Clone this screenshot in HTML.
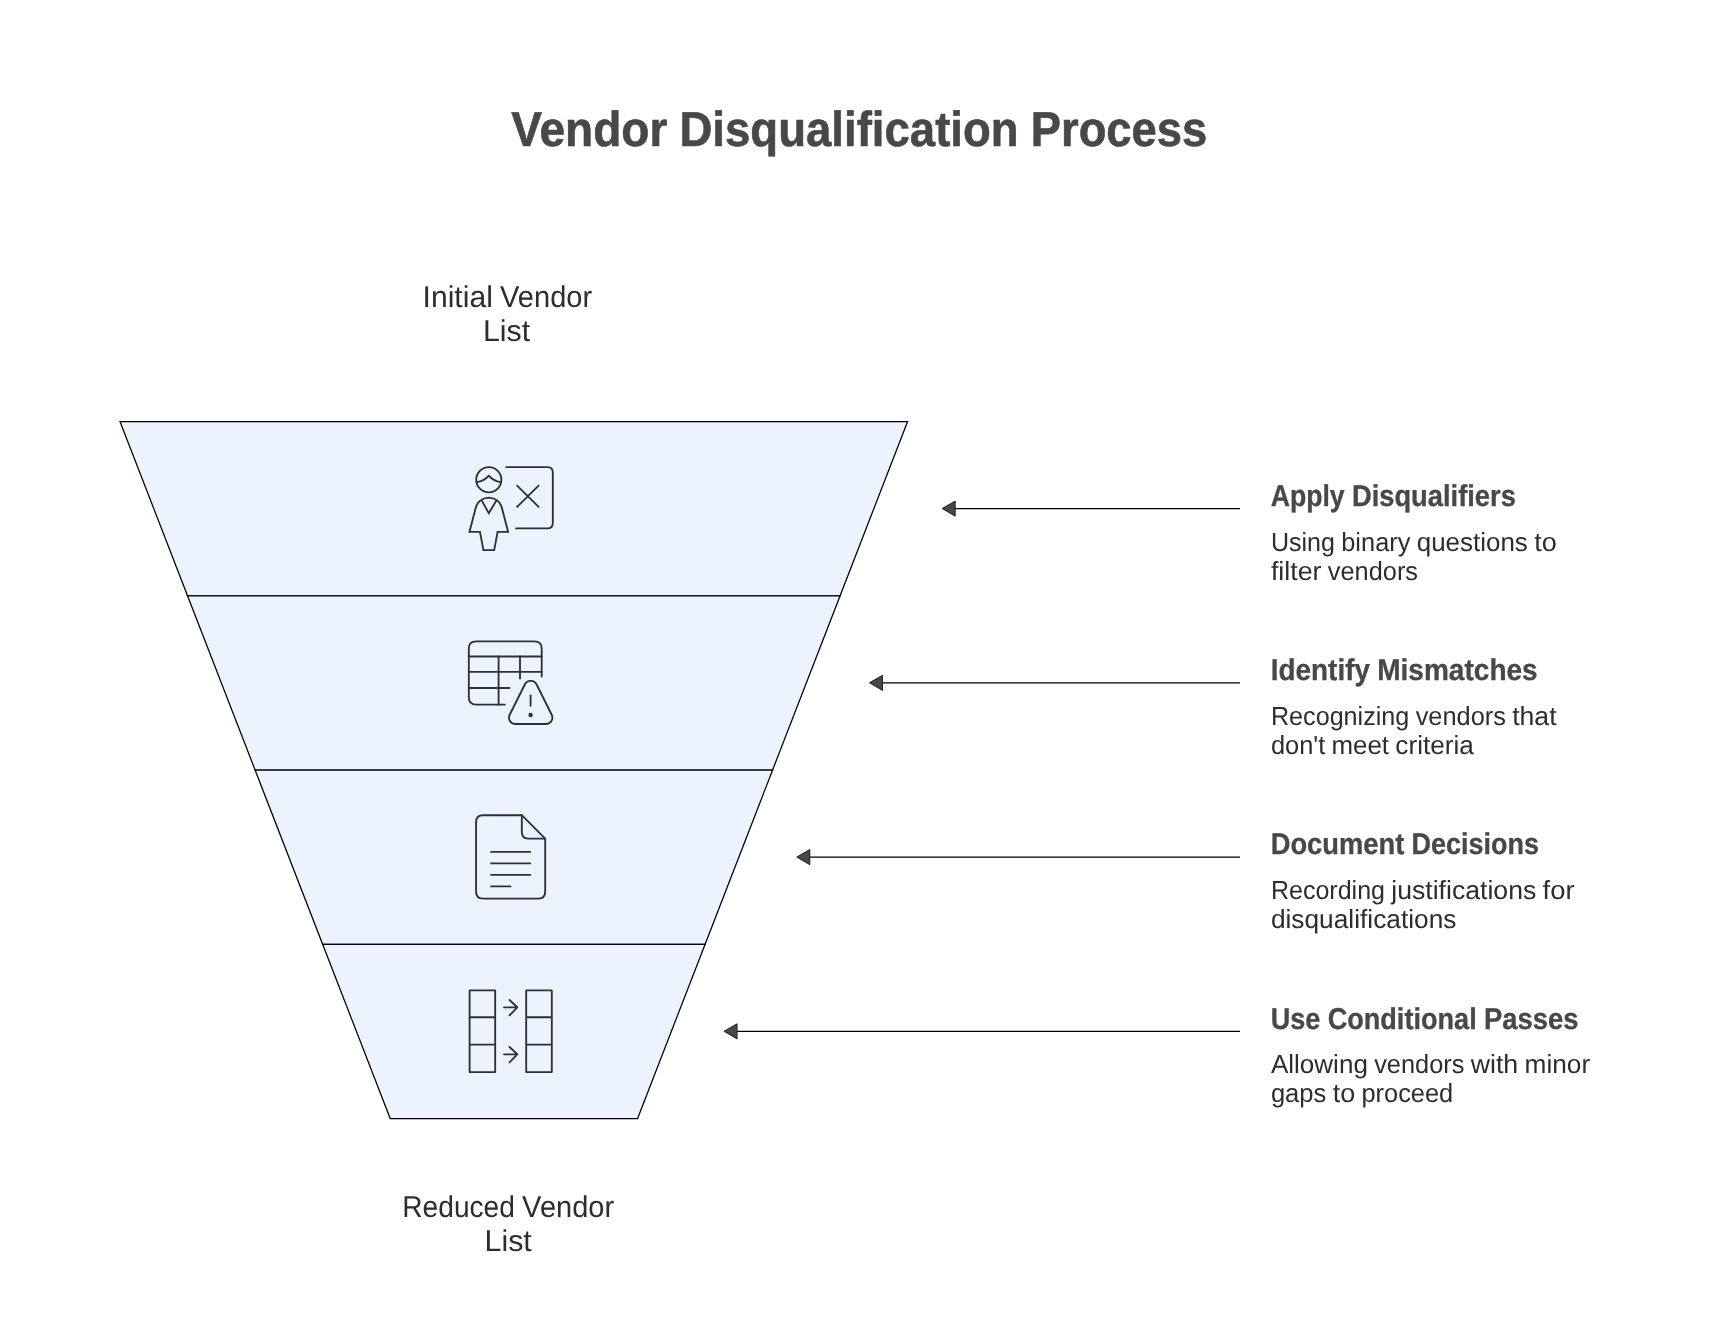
<!DOCTYPE html>
<html lang="en">
<head>
<meta charset="utf-8">
<title>Vendor Disqualification Process</title>
<style>
  html, body { margin: 0; padding: 0; background: #ffffff; }
  body { width: 1716px; height: 1332px; overflow: hidden; }
  svg { display: block; will-change: transform; }
  text { font-family: "Liberation Sans", sans-serif; fill: #484848; text-rendering: geometricPrecision; }
  .title { font-size: 49.1px; font-weight: 700; stroke: #484848; stroke-width: 0.6px; }
  .head { font-size: 30.1px; font-weight: 700; stroke: #484848; stroke-width: 0.3px; }
  .label { font-size: 30px; font-weight: 400; fill: #2d2d2d; }
  .body { font-size: 26.25px; font-weight: 400; fill: #2d2d2d; }
  .ic { fill: none; stroke: #303030; stroke-width: 1.85; stroke-linecap: round; stroke-linejoin: round; }
  .mi { stroke-linejoin: miter; }
  .bt { stroke-linecap: butt; }
  .fl { fill: #edf3fe; stroke: #000; stroke-width: 1.25; stroke-linejoin: miter; }
  .shaft { stroke: #000; stroke-width: 1.3; fill: none; }
  .ah { fill: #484848; stroke: #2a2a2a; stroke-width: 1.2; stroke-linejoin: round; }
</style>
</head>
<body>
<svg width="1716" height="1332" viewBox="0 0 1716 1332">
  <rect x="0" y="0" width="1716" height="1332" fill="#ffffff"/>

  <!-- funnel -->
  <g id="funnel">
    <polygon class="fl" points="120,421.5 907.6,421.5 840.1,595.75 187.55,595.75"/>
    <polygon class="fl" points="187.55,595.75 840.1,595.75 772.6,770 255.1,770"/>
    <polygon class="fl" points="255.1,770 772.6,770 705.1,944.25 322.65,944.25"/>
    <polygon class="fl" points="322.65,944.25 705.1,944.25 637.6,1118.5 390.2,1118.5"/>
  </g>

  <!-- arrows -->
  <g id="arrows">
    <path class="shaft" d="M1240,508.55 H953.90"/>
    <path class="ah" d="M942.40,508.55 L955.10,501.20 L955.10,515.90 Z"/>
    <path class="shaft" d="M1240,682.80 H881.20"/>
    <path class="ah" d="M869.70,682.80 L882.40,675.45 L882.40,690.15 Z"/>
    <path class="shaft" d="M1240,857.05 H808.50"/>
    <path class="ah" d="M797.00,857.05 L809.70,849.70 L809.70,864.40 Z"/>
    <path class="shaft" d="M1240,1031.30 H735.80"/>
    <path class="ah" d="M724.30,1031.30 L737.00,1023.95 L737.00,1038.65 Z"/>
  </g>

  <!-- icon 1: person + board with X -->
  <g id="icon1" class="ic">
    <circle cx="488.8" cy="479.8" r="12.6"/>
    <path d="M476.6,482.2 Q484.6,480.8 488.8,475.6 Q493,480.8 501,482.2"/>
    <path class="mi" d="M469.5,531.8 L476.1,506.4 Q478.6,498.6 488.8,497.6 Q499,498.6 501.5,506.4 L508.1,531.8 H497.6 L494.2,550.1 H483.4 L480,531.8 Z"/>
    <path class="mi" d="M482,501 L488.8,513.2 L496.1,501"/>
    <path d="M506.2,467.1 H547.4 Q552.8,467.1 552.8,472.5 V523 Q552.8,528.4 547.4,528.4 H516"/>
    <path d="M517.1,485.6 L538.6,506.9 M538.6,485.6 L517.1,506.9"/>
  </g>

  <!-- icon 2: table + warning -->
  <g id="icon2" class="ic">
    <path d="M541.7,676.5 V648.7 Q541.7,641.4 534.4,641.4 H476.1 Q468.8,641.4 468.8,648.7 V697.3 Q468.8,704.6 476.1,704.6 H504.9"/>
    <path d="M468.8,656.5 H541.7 M468.8,671.9 H541.7 M468.8,688 H509.5"/>
    <path d="M498.6,656.5 V704.6 M520,656.5 V678.5"/>
    <path d="M524.8,684.5 A6.6,6.6 0 0 1 536.6,684.5 L551.7,714.75 A6.4,6.4 0 0 1 546,724 H515.4 A6.4,6.4 0 0 1 509.7,714.75 Z"/>
    <path d="M530.6,695.3 V705.7"/>
    <circle cx="530.6" cy="715" r="2.2" style="fill:#333;stroke:none"/>
  </g>

  <!-- icon 3: document -->
  <g id="icon3" class="ic">
    <path d="M521.8,815.2 H482.9 Q476.1,815.2 476.1,822 V891.8 Q476.1,898.6 482.9,898.6 H538.4 Q545.2,898.6 545.2,891.8 V838.6 Z"/>
    <path d="M521.8,815.2 V832 Q521.8,838.6 528.4,838.6 H545.2"/>
    <path d="M491.1,851.9 H530.2 M491.1,863.4 H530.2 M491.1,874.9 H530.2 M491.1,886.4 H510.5"/>
  </g>

  <!-- icon 4: columns with arrows -->
  <g id="icon4" class="ic">
    <rect x="469.6" y="990.4" width="25.6" height="81.7"/>
    <path class="bt" d="M469.6,1017.2 H495.2 M469.6,1044.6 H495.2"/>
    <rect x="526.2" y="990.4" width="25.6" height="81.7"/>
    <path class="bt" d="M526.2,1017.2 H551.8 M526.2,1044.6 H551.8"/>
    <path d="M504,1007.3 H517.3 M509.5,1000 L517.3,1007.3 L509.5,1015.3"/>
    <path d="M504,1054.3 H517.3 M509.5,1047 L517.3,1054.3 L509.5,1062.3"/>
  </g>

  <!-- text -->
  <text class="title" y="146"><tspan x="511.30" textLength="156.11" lengthAdjust="spacingAndGlyphs">Vendor</tspan> <tspan x="679.44" textLength="339.25" lengthAdjust="spacingAndGlyphs">Disqualification</tspan> <tspan x="1030.72" textLength="176.55" lengthAdjust="spacingAndGlyphs">Process</tspan></text>
  <text class="label" y="307"><tspan x="422.50" textLength="70.40" lengthAdjust="spacingAndGlyphs">Initial</tspan> <tspan x="500.10" textLength="92.05" lengthAdjust="spacingAndGlyphs">Vendor</tspan></text>
  <text class="label" y="341"><tspan x="483.00" textLength="47.18" lengthAdjust="spacingAndGlyphs">List</tspan></text>
  <text class="label" y="1217"><tspan x="402.30" textLength="112.62" lengthAdjust="spacingAndGlyphs">Reduced</tspan> <tspan x="522.12" textLength="92.05" lengthAdjust="spacingAndGlyphs">Vendor</tspan></text>
  <text class="label" y="1251"><tspan x="484.60" textLength="47.18" lengthAdjust="spacingAndGlyphs">List</tspan></text>
  <text class="head" y="506"><tspan x="1270.70" textLength="74.00" lengthAdjust="spacingAndGlyphs">Apply</tspan> <tspan x="1351.92" textLength="163.92" lengthAdjust="spacingAndGlyphs">Disqualifiers</tspan></text>
  <text class="body" y="551"><tspan x="1270.90" textLength="64.06" lengthAdjust="spacingAndGlyphs">Using</tspan> <tspan x="1341.26" textLength="69.15" lengthAdjust="spacingAndGlyphs">binary</tspan> <tspan x="1416.71" textLength="111.15" lengthAdjust="spacingAndGlyphs">questions</tspan> <tspan x="1534.17" textLength="22.55" lengthAdjust="spacingAndGlyphs">to</tspan></text>
  <text class="body" y="580"><tspan x="1270.90" textLength="50.65" lengthAdjust="spacingAndGlyphs">filter</tspan> <tspan x="1327.85" textLength="90.19" lengthAdjust="spacingAndGlyphs">vendors</tspan></text>
  <text class="head" y="680"><tspan x="1270.70" textLength="99.30" lengthAdjust="spacingAndGlyphs">Identify</tspan> <tspan x="1377.21" textLength="160.49" lengthAdjust="spacingAndGlyphs">Mismatches</tspan></text>
  <text class="body" y="725"><tspan x="1270.90" textLength="138.47" lengthAdjust="spacingAndGlyphs">Recognizing</tspan> <tspan x="1415.67" textLength="90.19" lengthAdjust="spacingAndGlyphs">vendors</tspan> <tspan x="1512.16" textLength="44.44" lengthAdjust="spacingAndGlyphs">that</tspan></text>
  <text class="body" y="754"><tspan x="1270.90" textLength="54.31" lengthAdjust="spacingAndGlyphs">don&#x27;t</tspan> <tspan x="1331.51" textLength="57.54" lengthAdjust="spacingAndGlyphs">meet</tspan> <tspan x="1395.35" textLength="78.48" lengthAdjust="spacingAndGlyphs">criteria</tspan></text>
  <text class="head" y="854"><tspan x="1270.70" textLength="133.56" lengthAdjust="spacingAndGlyphs">Document</tspan> <tspan x="1411.48" textLength="127.52" lengthAdjust="spacingAndGlyphs">Decisions</tspan></text>
  <text class="body" y="899"><tspan x="1270.90" textLength="114.09" lengthAdjust="spacingAndGlyphs">Recording</tspan> <tspan x="1391.29" textLength="145.01" lengthAdjust="spacingAndGlyphs">justifications</tspan> <tspan x="1542.60" textLength="31.93" lengthAdjust="spacingAndGlyphs">for</tspan></text>
  <text class="body" y="928"><tspan x="1270.90" textLength="185.56" lengthAdjust="spacingAndGlyphs">disqualifications</tspan></text>
  <text class="head" y="1029"><tspan x="1270.70" textLength="49.73" lengthAdjust="spacingAndGlyphs">Use</tspan> <tspan x="1327.64" textLength="149.07" lengthAdjust="spacingAndGlyphs">Conditional</tspan> <tspan x="1483.93" textLength="94.51" lengthAdjust="spacingAndGlyphs">Passes</tspan></text>
  <text class="body" y="1073"><tspan x="1270.90" textLength="96.99" lengthAdjust="spacingAndGlyphs">Allowing</tspan> <tspan x="1374.19" textLength="90.19" lengthAdjust="spacingAndGlyphs">vendors</tspan> <tspan x="1470.68" textLength="47.57" lengthAdjust="spacingAndGlyphs">with</tspan> <tspan x="1524.55" textLength="65.59" lengthAdjust="spacingAndGlyphs">minor</tspan></text>
  <text class="body" y="1102"><tspan x="1270.90" textLength="55.46" lengthAdjust="spacingAndGlyphs">gaps</tspan> <tspan x="1332.67" textLength="22.55" lengthAdjust="spacingAndGlyphs">to</tspan> <tspan x="1361.52" textLength="91.69" lengthAdjust="spacingAndGlyphs">proceed</tspan></text>
</svg>
</body>
</html>
